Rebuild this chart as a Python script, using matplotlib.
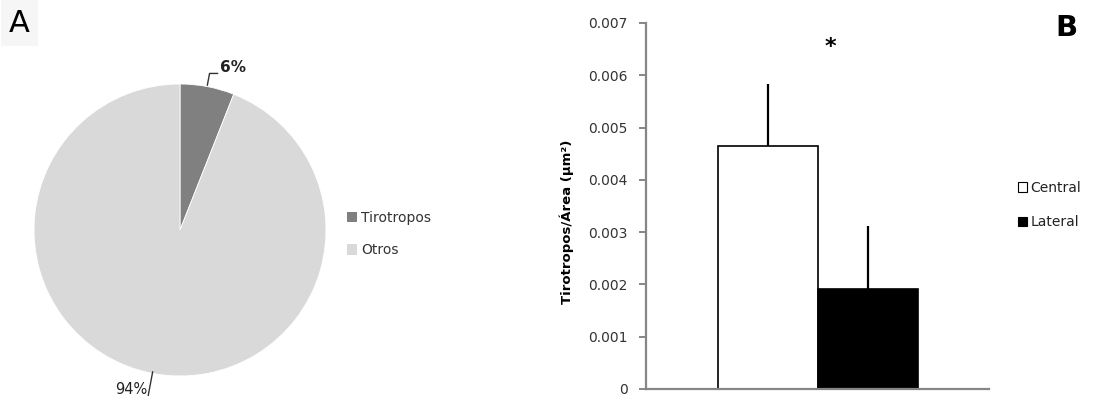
import matplotlib.pyplot as plt
import numpy as np
from matplotlib.patches import Patch

# Panel A: share of thyrotropes among all cells
pie_labels = ["Tirotropos", "Otros"]
pie_values = [6, 94]
pie_colors = ["#808080", "#d9d9d9"]

# Panel B: thyrotropes per area, central vs lateral
groups = ["Central", "Lateral"]
means = [0.00465, 0.00192]
errors = [0.00119, 0.00120]
bar_colors = ["white", "black"]
y_ticks = [0, 0.001, 0.002, 0.003, 0.004, 0.005, 0.006, 0.007]
y_ticklabels = ["0", "0.001", "0.002", "0.003", "0.004", "0.005", "0.006", "0.007"]

W, H = 1093, 401
fig = plt.figure(figsize=(W / 100, H / 100), dpi=100)
fig.patch.set_facecolor("white")


def px_box(left, top, right, bottom):
    return [left / W, 1 - bottom / H, (right - left) / W, (bottom - top) / H]


# ---- pie ----
ax_pie = fig.add_axes(px_box(34, 84, 326, 376))
wedges, _ = ax_pie.pie(
    pie_values,
    colors=pie_colors,
    startangle=90,
    counterclock=False,
    radius=1,
    wedgeprops=dict(edgecolor="white", linewidth=0.6),
)
ax_pie.set_xlim(-1, 1)
ax_pie.set_ylim(-1, 1)
ax_pie.set_aspect("equal")
ax_pie.axis("off")

# leader lines and percentage labels
for w, v in zip(wedges, pie_values):
    mid = np.deg2rad((w.theta1 + w.theta2) / 2)
    x0, y0 = np.cos(mid), np.sin(mid)
    if y0 > 0:
        xs = [x0, x0 + 0.015, x0 + 0.07]
        ys = [y0 + 0.01, y0 + 0.09, y0 + 0.09]
        ax_pie.plot(xs, ys, color="#333333", lw=1.0, clip_on=False)
        ax_pie.text(x0 + 0.085, y0 + 0.13, f"{v}%", fontsize=11, fontweight="bold",
                    ha="left", va="center", color="#222222")
    else:
        xs = [x0, x0 - 0.03]
        ys = [y0 + 0.01, y0 - 0.15]
        ax_pie.plot(xs, ys, color="#333333", lw=1.0, clip_on=False)
        ax_pie.text(x0 - 0.035, y0 - 0.11, f"{v}%", fontsize=10.5,
                    ha="right", va="center", color="#222222")

fig.legend(
    [Patch(facecolor=c) for c in pie_colors],
    pie_labels,
    loc="center left",
    bbox_to_anchor=(334 / W, 1 - 234 / H),
    frameon=False,
    handlelength=0.75,
    handleheight=0.75,
    handletextpad=0.3,
    labelspacing=1.35,
    fontsize=10,
    labelcolor="#333333",
)

fig.text(9 / W, 1 - 23 / H, "A", fontsize=22, ha="left", va="center",
         bbox=dict(facecolor="#f6f6f6", edgecolor="none", pad=6))

# ---- bars ----
ax_bar = fig.add_axes(px_box(646, 23, 989, 389))
x = np.array([-0.5, 0.5])
ax_bar.bar(x, means, width=1.0, color=bar_colors, edgecolor="black", linewidth=1.2,
           zorder=2)
ax_bar.errorbar(x, means, yerr=[np.zeros(len(errors)), errors], fmt="none",
                ecolor="black", elinewidth=1.6, capsize=0, zorder=1)
ax_bar.set_xlim(-1.715, 1.715)
ax_bar.set_ylim(0, 0.007)
ax_bar.set_xticks([])
ax_bar.set_yticks(y_ticks)
ax_bar.set_yticklabels(y_ticklabels, fontsize=10, color="#333333")
ax_bar.tick_params(axis="y", direction="out", length=5, width=1.4,
                   color="#868686", pad=8)
for side in ["top", "right"]:
    ax_bar.spines[side].set_visible(False)
for side in ["left", "bottom"]:
    ax_bar.spines[side].set_color("#868686")
    ax_bar.spines[side].set_linewidth(1.6)
ax_bar.set_ylabel("Tirotropos/Área (µm²)", fontsize=9.5, fontweight="bold")
ax_bar.yaxis.set_label_coords(-0.21, 0.456)
ax_bar.text(0.125, 0.00655, "*", fontsize=16, fontweight="bold", ha="center",
            va="center")

fig.legend(
    [Patch(facecolor=c, edgecolor="black", linewidth=0.8) for c in bar_colors],
    groups,
    loc="center left",
    bbox_to_anchor=(1005 / W, 1 - 205 / H),
    frameon=False,
    handlelength=0.7,
    handleheight=0.7,
    handletextpad=0.25,
    labelspacing=1.5,
    fontsize=10,
    labelcolor="#222222",
)

fig.text(1055 / W, 1 - 28 / H, "B", fontsize=21, fontweight="bold", ha="left",
         va="center")

fig.savefig("out.png", dpi=100)
